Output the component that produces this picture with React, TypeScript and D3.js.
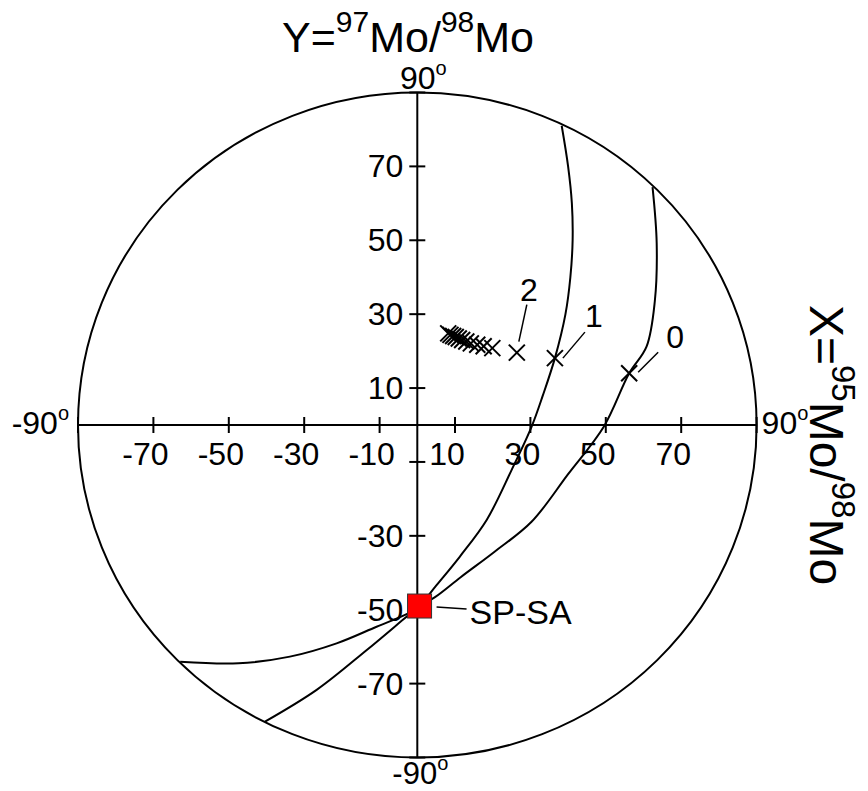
import React from "react";
import * as d3 from "d3";

// ---- data (degrees) ----
const ptX = [56.2, 36.5, 26.4, 19.9, 17.6, 15.9, 14.2, 13.0, 11.9, 11.0, 10.2, 9.5, 8.8, 8.2];
const ptY = [14.0, 18.1, 19.6, 20.8, 21.3, 21.7, 22.1, 22.6, 23.0, 23.4, 23.8, 24.1, 24.4, 24.8];
const ptLabels = ["0", "1", "2"];

const spsaX = 0.6;
const spsaY = -49;

// curve through step "1" (inner)
const curveAX = [38.3, 40.0, 41.0, 41.2, 40.6, 39.3, 36.5, 33.3, 30.3, 25.0, 18.4, 11.3, 5.0, 0.6, -2.4, -13.4, -26.7, -40.4];
const curveAY = [81.0, 70.0, 60.0, 50.0, 40.0, 30.0, 18.1, 8.0, -0.5, -12.2, -25.7, -35.6, -43.5, -49, -51.5, -60.9, -71.7, -80.3];
// curve through step "0" (outer)
const curveBX = [62.4, 63.5, 63.0, 60.8, 56.2, 49.5, 40.0, 30.3, 20.5, 11.5, 4.7, 0.6, -2.4, -10.8, -21.4, -33.8, -47.4, -62.9];
const curveBY = [64.4, 49.2, 33.5, 21.2, 14.0, -0.4, -13.3, -26.2, -34.3, -41.2, -46.6, -49, -51.0, -54.6, -59.1, -62.7, -64.5, -64.1];

const ticks = [-90, -70, -50, -30, -10, 10, 30, 50, 70, 90];
const xTickLabels = [-70, -50, -30, -10, 10, 30, 50, 70];
const yTickLabels = [70, 50, 30, 10, -30, -50, -70];

const W = 868;
const H = 791;
const FONT = "'Liberation Sans', Arial, Helvetica, sans-serif";

export default function App() {
  const x = d3.scaleLinear().domain([-90, 90]).range([78, 756.6]);
  const y = d3.scaleLinear().domain([-90, 90]).range([757.5, 92.5]);
  const cx = x(0);
  const cy = y(0);
  const rx = x(90) - cx;
  const ry = cy - y(90);

  const line = d3
    .line<[number, number]>()
    .x((d) => x(d[0]))
    .y((d) => y(d[1]))
    .curve(d3.curveCatmullRom.alpha(0.5));

  const curveA = curveAX.map((v, i) => [v, curveAY[i]] as [number, number]);
  const curveB = curveBX.map((v, i) => [v, curveBY[i]] as [number, number]);

  const ms = 8;
  const labelCfg = [
    { l1: [9, -1], l2: [29, -21], t: [46, -25] },
    { l1: [8, 0], l2: [30, -26], t: [39, -31] },
    { l1: [2, -11], l2: [10, -48], t: [12, -52] },
  ];

  const fs = 32;

  return (
    <svg
      width={W}
      height={H}
      style={{ position: "absolute", left: 0, top: 0, background: "#fff" }}
      fontFamily={FONT}
    >
      <rect width={W} height={H} fill="#fff" />
      {/* title */}
      <text x={408} y={52} fontSize={43} textAnchor="middle" fill="#000">
        <tspan>Y=</tspan>
        <tspan fontSize={30} dy={-20}>97</tspan>
        <tspan dy={20}>Mo/</tspan>
        <tspan fontSize={30} dy={-20}>98</tspan>
        <tspan dy={20}>Mo</tspan>
      </text>
      {/* right title */}
      <text
        transform={`translate(810, 445) rotate(90)`}
        fontSize={48}
        textAnchor="middle"
        fill="#000"
      >
        <tspan>X=</tspan>
        <tspan fontSize={33} dy={-22}>95</tspan>
        <tspan dy={22}>Mo/</tspan>
        <tspan fontSize={33} dy={-22}>98</tspan>
        <tspan dy={22}>Mo</tspan>
      </text>

      {/* outer circle */}
      <ellipse cx={cx} cy={cy} rx={rx} ry={ry} fill="none" stroke="#000" strokeWidth={2} />

      {/* axes */}
      <line x1={x(-90)} x2={x(90)} y1={cy} y2={cy} stroke="#000" strokeWidth={2} />
      <line x1={cx} x2={cx} y1={y(90)} y2={y(-90)} stroke="#000" strokeWidth={2} />
      {ticks.map((t) => (
        <line key={"xt" + t} x1={x(t)} x2={x(t)} y1={cy - 8} y2={cy + 8} stroke="#000" strokeWidth={2} />
      ))}
      {ticks.map((t) => (
        <line key={"yt" + t} x1={cx - 8} x2={cx + 8} y1={y(t)} y2={y(t)} stroke="#000" strokeWidth={2} />
      ))}
      {xTickLabels.map((t) => (
        <text key={"xl" + t} x={x(t) - 8} y={cy + 40} fontSize={fs} textAnchor="middle" fill="#000">
          {t}
        </text>
      ))}
      {yTickLabels.map((t) => (
        <text key={"yl" + t} x={cx - 14} y={y(t) + 11} fontSize={fs} textAnchor="end" fill="#000">
          {t}
        </text>
      ))}

      {/* degree labels */}
      <text x={cx + 6} y={y(90) - 4} fontSize={fs} textAnchor="middle" fill="#000">
        90<tspan fontSize={20} dy={-14}>o</tspan>
      </text>
      <text x={cx + 3} y={y(-90) + 26} fontSize={31} textAnchor="middle" fill="#000">
        -90<tspan fontSize={20} dy={-14}>o</tspan>
      </text>
      <text x={x(90) + 5} y={cy + 9} fontSize={fs} textAnchor="start" fill="#000">
        90<tspan fontSize={20} dy={-14}>o</tspan>
      </text>
      <text x={x(-90) - 9} y={cy + 9} fontSize={fs} textAnchor="end" fill="#000">
        -90<tspan fontSize={20} dy={-14}>o</tspan>
      </text>

      {/* curves */}
      <path d={line(curveA) || ""} fill="none" stroke="#000" strokeWidth={2} />
      <path d={line(curveB) || ""} fill="none" stroke="#000" strokeWidth={2} />

      {/* points */}
      {ptX.map((v, i) => {
        const px = x(v);
        const py = y(ptY[i]);
        return (
          <g key={"p" + i} stroke="#000" strokeWidth={2}>
            <line x1={px - ms} y1={py - ms} x2={px + ms} y2={py + ms} />
            <line x1={px - ms} y1={py + ms} x2={px + ms} y2={py - ms} />
          </g>
        );
      })}
      {ptLabels.map((lab, i) => {
        const px = x(ptX[i]);
        const py = y(ptY[i]);
        const c = labelCfg[i];
        return (
          <g key={"lab" + i}>
            <line
              x1={px + c.l1[0]}
              y1={py + c.l1[1]}
              x2={px + c.l2[0]}
              y2={py + c.l2[1]}
              stroke="#000"
              strokeWidth={1.5}
            />
            <text x={px + c.t[0]} y={py + c.t[1]} fontSize={fs} textAnchor="middle" fill="#000">
              {lab}
            </text>
          </g>
        );
      })}

      {/* SP-SA */}
      <rect
        x={x(spsaX) - 12}
        y={y(spsaY) - 12}
        width={24}
        height={24}
        fill="#ff0000"
        stroke="#333"
        strokeWidth={1}
      />
      <line
        x1={x(spsaX) + 17}
        y1={y(spsaY) + 1}
        x2={x(spsaX) + 47}
        y2={y(spsaY) + 3}
        stroke="#000"
        strokeWidth={1.5}
      />
      <text x={x(spsaX) + 50} y={y(spsaY) + 18} fontSize={34} fill="#000">
        SP-SA
      </text>
    </svg>
  );
}
